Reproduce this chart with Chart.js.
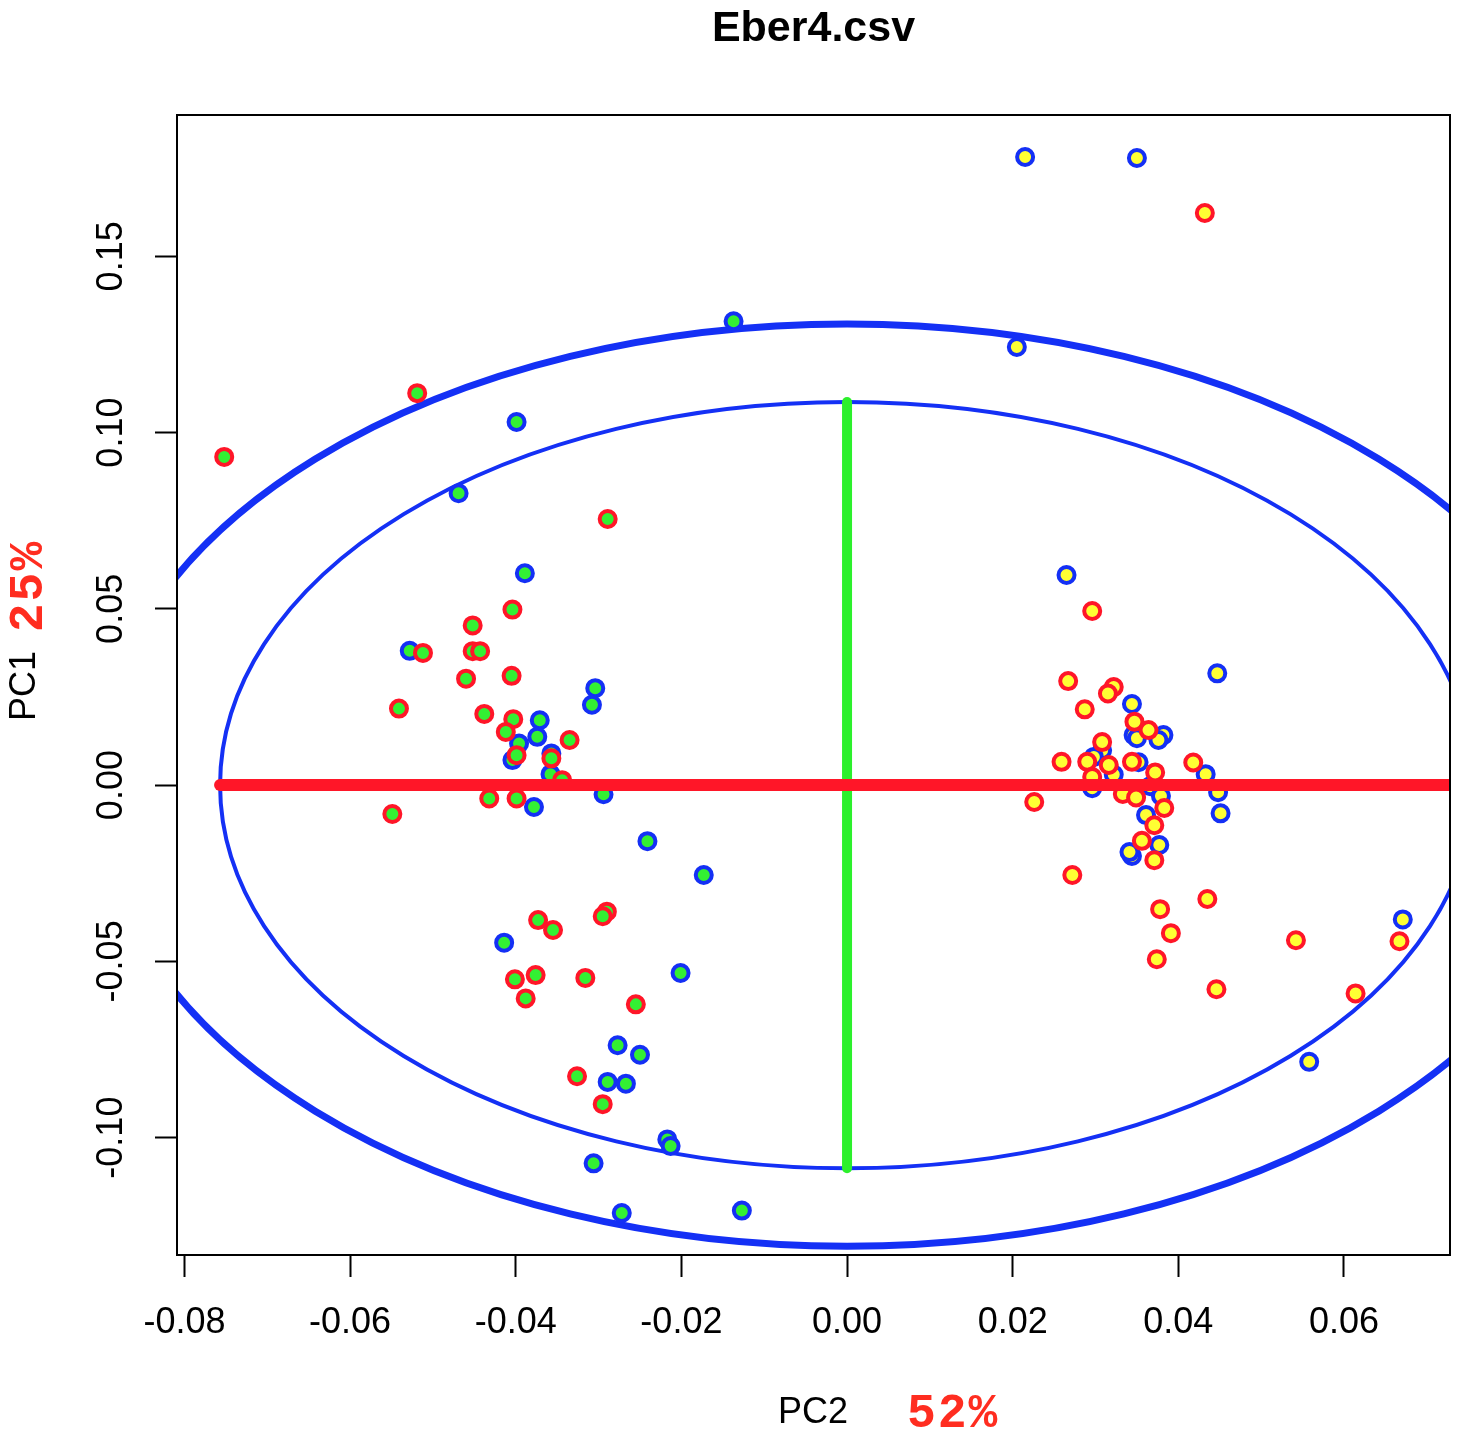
<!DOCTYPE html>
<html>
<head>
<meta charset="utf-8">
<title>Eber4.csv</title>
<script src="https://cdn.jsdelivr.net/npm/chart.js@4.4.1/dist/chart.umd.min.js"></script>
<style>
  html, body { margin: 0; padding: 0; background: #fff; }
  #wrap { width: 1468px; height: 1436px; }
</style>
</head>
<body>
<div id="wrap"><canvas id="pcaChart" width="1468" height="1436"></canvas></div>
<script>
// axis limits and ticks (PC2 on x, PC1 on y)
const xLimits = [-0.0809, 0.0728];
const yLimits = [-0.1333, 0.1901];
const xTicks = [-0.08, -0.06, -0.04, -0.02, 0.00, 0.02, 0.04, 0.06];
const yTicks = [-0.10, -0.05, 0.00, 0.05, 0.10, 0.15];

// ellipse semi-axes [x, y], centred at the origin
const ellipseCenter = [0, 0];
const ellipseInner = [0.0757, 0.1087];
const ellipseOuter = [0.0908, 0.1308];

// group 1 (green fill), red and blue outlines
const redGreen = [
  [-0.0752, 0.0931], [-0.0519, 0.1112], [-0.0289, 0.0755], [-0.0404, 0.0498],
  [-0.0452, 0.0453], [-0.0512, 0.0375], [-0.0452, 0.0380], [-0.0443, 0.0380],
  [-0.0460, 0.0302], [-0.0405, 0.0310], [-0.0541, 0.0217], [-0.0438, 0.0202],
  [-0.0403, 0.0187], [-0.0412, 0.0151], [-0.0335, 0.0128], [-0.0399, 0.0085],
  [-0.0357, 0.0076], [-0.0344, 0.0014], [-0.0432, -0.0038], [-0.0399, -0.0038],
  [-0.0549, -0.0082], [-0.0373, -0.0383], [-0.0355, -0.0411], [-0.0290, -0.0359],
  [-0.0295, -0.0372], [-0.0401, -0.0551], [-0.0376, -0.0539], [-0.0388, -0.0605],
  [-0.0316, -0.0547], [-0.0255, -0.0622], [-0.0326, -0.0826], [-0.0295, -0.0905]
];
const blueGreen = [
  [-0.0399, 0.1030], [-0.0469, 0.0828], [-0.0137, 0.1316], [-0.0389, 0.0601],
  [-0.0528, 0.0381], [-0.0304, 0.0275], [-0.0308, 0.0228], [-0.0371, 0.0184],
  [-0.0374, 0.0137], [-0.0396, 0.0118], [-0.0404, 0.0071], [-0.0357, 0.0090],
  [-0.0358, 0.0031], [-0.0294, -0.0026], [-0.0378, -0.0062], [-0.0241, -0.0159],
  [-0.0173, -0.0255], [-0.0414, -0.0447], [-0.0201, -0.0533], [-0.0277, -0.0738],
  [-0.0250, -0.0765], [-0.0289, -0.0842], [-0.0267, -0.0847], [-0.0217, -0.1005],
  [-0.0213, -0.1024], [-0.0306, -0.1073], [-0.0272, -0.1214], [-0.0127, -0.1207]
];

// group 2 (yellow fill), red and blue outlines
const redYellow = [
  [0.0432, 0.1623], [0.0296, 0.0494], [0.0267, 0.0295], [0.0322, 0.0278],
  [0.0315, 0.0260], [0.0287, 0.0215], [0.0347, 0.0180], [0.0364, 0.0156],
  [0.0308, 0.0122], [0.0259, 0.0066], [0.0290, 0.0066], [0.0316, 0.0057],
  [0.0344, 0.0066], [0.0372, 0.0036], [0.0418, 0.0064], [0.0296, 0.0023],
  [0.0333, -0.0025], [0.0349, -0.0035], [0.0226, -0.0048], [0.0383, -0.0065],
  [0.0371, -0.0114], [0.0356, -0.0158], [0.0371, -0.0213], [0.0272, -0.0255],
  [0.0435, -0.0323], [0.0378, -0.0352], [0.0391, -0.0420], [0.0374, -0.0494],
  [0.0446, -0.0579], [0.0542, -0.0440], [0.0667, -0.0443], [0.0614, -0.0591]
];
const blueYellow = [
  [0.0215, 0.1782], [0.0350, 0.1779], [0.0205, 0.1243], [0.0265, 0.0596],
  [0.0447, 0.0317], [0.0344, 0.0230], [0.0346, 0.0142], [0.0350, 0.0133],
  [0.0382, 0.0142], [0.0376, 0.0128], [0.0308, 0.0099], [0.0298, 0.0080],
  [0.0352, 0.0065], [0.0322, 0.0030], [0.0433, 0.0031], [0.0296, -0.0009],
  [0.0366, -0.0003], [0.0448, -0.0020], [0.0379, -0.0031], [0.0451, -0.0080],
  [0.0361, -0.0085], [0.0377, -0.0170], [0.0344, -0.0201], [0.0341, -0.0190],
  [0.0671, -0.0381], [0.0558, -0.0785]
];

const RED = '#ff1628';
const BLUE = '#1430f5';
const GREEN = '#33f033';
const YELLOW = '#ffff33';
const LABEL_RED = '#ff2d20';
const SANS = '"Liberation Sans", Arial, Helvetica, sans-serif';

const toPoints = arr => arr.map(p => ({ x: p[0], y: p[1] }));

function pointSet(label, arr, border, fill, order) {
  return {
    label: label,
    data: toPoints(arr),
    borderColor: border,
    backgroundColor: fill,
    pointRadius: 8,
    pointBorderWidth: 4,
    pointHoverRadius: 8,
    showLine: false,
    order: order
  };
}

// ellipses under the points, box + texts on top
const decorPlugin = {
  id: 'decor',
  beforeDatasetsDraw(chart) {
    const { ctx, chartArea: a, scales: { x, y } } = chart;
    const cx = x.getPixelForValue(ellipseCenter[0]);
    const cy = y.getPixelForValue(ellipseCenter[1]);
    ctx.save();
    ctx.beginPath();
    ctx.rect(a.left, a.top, a.right - a.left, a.bottom - a.top);
    ctx.clip();
    ctx.strokeStyle = BLUE;
    [[ellipseOuter, 7], [ellipseInner, 4]].forEach(([r, w]) => {
      const rx = x.getPixelForValue(ellipseCenter[0] + r[0]) - cx;
      const ry = cy - y.getPixelForValue(ellipseCenter[1] + r[1]);
      ctx.lineWidth = w;
      ctx.beginPath();
      ctx.ellipse(cx, cy, rx, ry, 0, 0, Math.PI * 2);
      ctx.stroke();
    });
    ctx.restore();
  },
  afterDraw(chart) {
    const { ctx, chartArea: a } = chart;
    ctx.save();
    ctx.strokeStyle = '#000';
    ctx.lineWidth = 2;
    ctx.strokeRect(a.left, a.top, a.right - a.left, a.bottom - a.top);

    ctx.fillStyle = '#000';
    ctx.textBaseline = 'alphabetic';
    ctx.textAlign = 'center';
    ctx.font = 'bold 43px ' + SANS;
    ctx.fillText('Eber4.csv', (a.left + a.right) / 2, 41);

    // x axis title
    ctx.textAlign = 'left';
    ctx.font = '36px ' + SANS;
    ctx.fillText('PC2', 778, 1423);
    ctx.fillStyle = LABEL_RED;
    ctx.font = 'bold 48px "Liberation Mono", "DejaVu Sans Mono", monospace';
    ctx.letterSpacing = '2px';
    ctx.fillText('52%', 907, 1427);
    ctx.letterSpacing = '0px';

    // y axis title, rotated
    ctx.save();
    ctx.translate(35, 686);
    ctx.rotate(-Math.PI / 2);
    ctx.textAlign = 'center';
    ctx.fillStyle = '#000';
    ctx.font = '36px ' + SANS;
    ctx.fillText('PC1', 0, 0);
    ctx.restore();

    ctx.save();
    ctx.translate(42, 586);
    ctx.rotate(-Math.PI / 2);
    ctx.textAlign = 'center';
    ctx.fillStyle = LABEL_RED;
    ctx.font = 'bold 48px "Liberation Mono", "DejaVu Sans Mono", monospace';
    ctx.letterSpacing = '2px';
    ctx.fillText('25%', 0, 0);
    ctx.restore();

    ctx.restore();
  }
};

const ctx = document.getElementById('pcaChart').getContext('2d');

new Chart(ctx, {
  type: 'scatter',
  data: {
    datasets: [
      {
        type: 'line',
        label: 'PC2 axis',
        data: [{ x: -ellipseInner[0], y: 0 }, { x: ellipseInner[0], y: 0 }],
        borderColor: RED,
        borderWidth: 12,
        borderCapStyle: 'round',
        pointRadius: 0,
        fill: false,
        clip: 0,
        order: 0
      },
      {
        type: 'line',
        label: 'PC1 axis',
        data: [{ x: 0, y: -ellipseInner[1] }, { x: 0, y: ellipseInner[1] }],
        borderColor: '#2cf02c',
        borderWidth: 10,
        borderCapStyle: 'round',
        pointRadius: 0,
        fill: false,
        clip: 0,
        order: 0
      },
      pointSet('red/green', redGreen, RED, GREEN, 1),
      pointSet('blue/green', blueGreen, BLUE, GREEN, 2),
      pointSet('red/yellow', redYellow, RED, YELLOW, 3),
      pointSet('blue/yellow', blueYellow, BLUE, YELLOW, 4)
    ]
  },
  options: {
    responsive: false,
    animation: false,
    devicePixelRatio: 1,
    events: [],
    layout: { padding: { top: 115, right: 18, left: 0, bottom: 0 } },
    plugins: {
      legend: { display: false },
      tooltip: { enabled: false },
      title: { display: false }
    },
    scales: {
      x: {
        type: 'linear',
        min: xLimits[0],
        max: xLimits[1],
        afterBuildTicks: s => { s.ticks = xTicks.map(v => ({ value: v })); },
        afterFit: s => { s.height = 181; },
        grid: { drawOnChartArea: false, drawTicks: true, tickLength: 22, tickWidth: 2, tickColor: '#000' },
        border: { display: true, color: '#000', width: 2 },
        ticks: {
          color: '#000',
          font: { family: SANS, size: 36 },
          padding: 24,
          maxRotation: 0,
          autoSkip: false,
          callback: v => v.toFixed(2)
        }
      },
      y: {
        type: 'linear',
        min: yLimits[0],
        max: yLimits[1],
        afterBuildTicks: s => { s.ticks = yTicks.map(v => ({ value: v })); },
        afterFit: s => { s.width = 177; },
        grid: { drawOnChartArea: false, drawTicks: true, tickLength: 22, tickWidth: 2, tickColor: '#000' },
        border: { display: true, color: '#000', width: 2 },
        ticks: {
          color: '#000',
          font: { family: SANS, size: 36 },
          padding: 2,
          minRotation: 90,
          maxRotation: 90,
          crossAlign: 'center',
          autoSkip: false,
          callback: v => v.toFixed(2)
        }
      }
    }
  },
  plugins: [decorPlugin]
});
</script>
</body>
</html>
